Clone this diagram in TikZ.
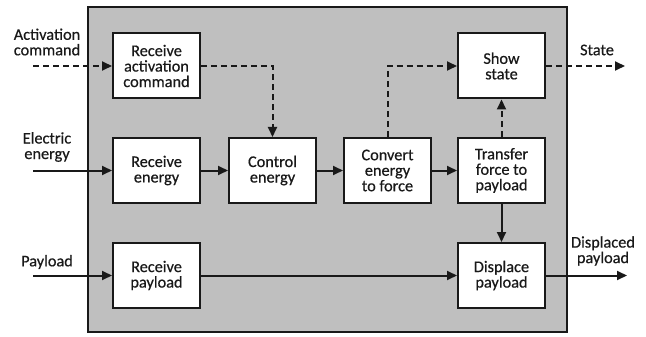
\documentclass[tikz,border=0pt]{standalone}
\usepackage{fontspec}
\setmainfont{Carlito}[FakeBold=0.5]
\usetikzlibrary{arrows.meta}
\definecolor{panel}{gray}{0.75}
\definecolor{ink}{gray}{0.1}
\begin{document}
\begin{tikzpicture}[x=1pt,y=-1pt,
  every node/.style={font=\fontsize{16.3}{15.5}\selectfont, text=ink, align=center},
  fn/.style={draw=ink, fill=white, line width=2pt, minimum width=87pt, minimum height=65pt, inner sep=0pt},
  flow/.style={draw=ink, line width=2pt, -{Triangle[length=10pt,width=9pt]}},
  signal/.style={flow, dash pattern=on 6pt off 4pt},
  lbl/.style={inner sep=0pt}]
\useasboundingbox (0,0) rectangle (646,337);
% system boundary
\draw[draw=ink, fill=panel, line width=1.8pt] (88,7) rectangle (567,332);
% functions
\node[fn] (rac) at (156.5,66) {Receive\\activation\\command};
\node[fn] (ss)  at (501.5,66) {Show\\state};
\node[fn] (re)  at (156.5,170.5) {Receive\\energy};
\node[fn] (ce)  at (272.5,170.5) {Control\\energy};
\node[fn] (cv)  at (387.5,170.5) {Convert\\energy\\to force};
\node[fn] (tf)  at (501.5,170.5) {Transfer\\force to\\payload};
\node[fn] (rp)  at (156.5,275.5) {Receive\\payload};
\node[fn] (dp)  at (501.5,275.5) {Displace\\payload};
% external flows
\node[lbl] (lac) at (47,42) {Activation\\command};
\node[lbl] (lee) at (47,147) {Electric\\energy};
\node[lbl] (lpl) at (47,262) {Payload};
\node[lbl] (lst) at (597,50) {State};
\node[lbl] (ldp) at (603,251) {Displaced\\payload};
\coordinate (inA) at (33,66);
\coordinate (inE) at (33,170.5);
\coordinate (inP) at (33,275.5);
\coordinate (outS) at (625,66);
\coordinate (outD) at (627,275.5);
% signals
\draw[signal] (inA) -- (rac);
\draw[signal] (rac.east) -| (ce.north);
\draw[signal] (cv.north) |- (ss.west);
\draw[signal] (tf.north) -- (ss.south);
\draw[signal] (ss.east) -- (outS);
% energy and material
\draw[flow] (inE) -- (re);
\draw[flow] (re) -- (ce);
\draw[flow] (ce) -- (cv);
\draw[flow] (cv) -- (tf);
\draw[flow] (tf) -- (dp);
\draw[flow] (inP) -- (rp);
\draw[flow] (rp) -- (dp);
\draw[flow] (dp) -- (outD);
\end{tikzpicture}
\end{document}
